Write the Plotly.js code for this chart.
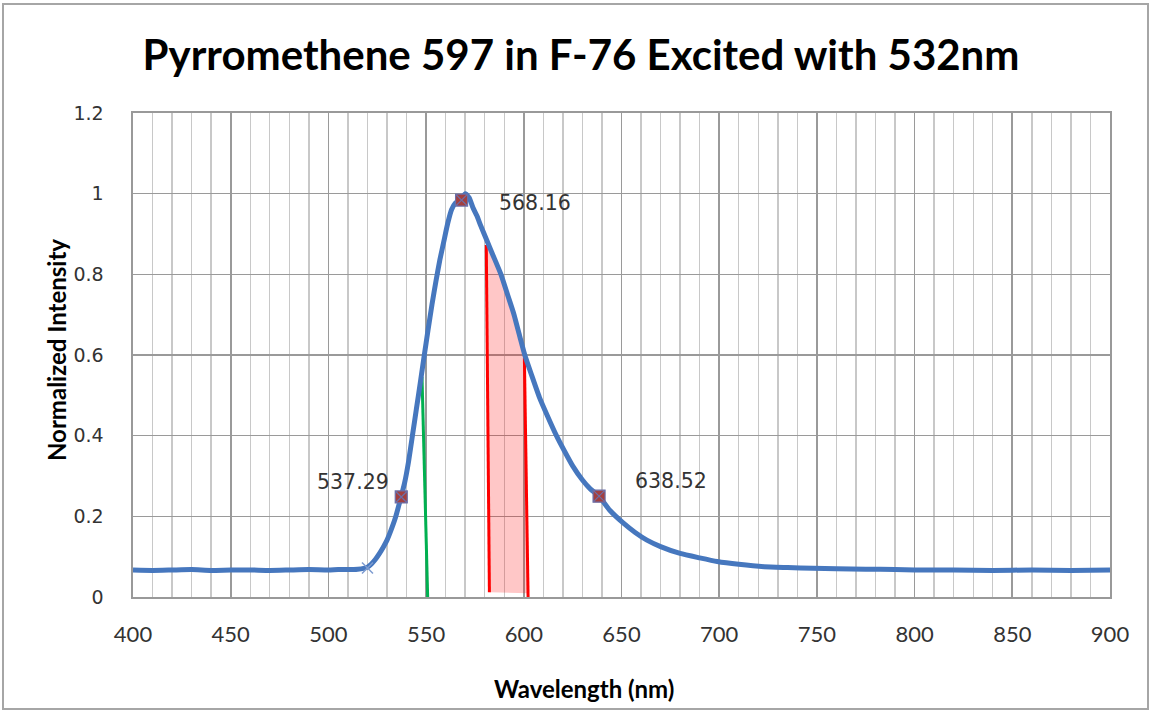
<!DOCTYPE html>
<html>
<head>
<meta charset="utf-8">
<script src="https://cdn.plot.ly/plotly-3.0.1.min.js"></script>
<style>
  html, body { margin: 0; padding: 0; background: #fff; }
  #chart { width: 1151px; height: 713px; }
</style>
</head>
<body>
<div id="chart"></div>
<script>
// Emission spectrum of Pyrromethene 597 in F-76 (normalized)
const wavelength = [
  400, 410, 420, 430, 440, 450, 460, 470, 480, 490, 500, 505, 510, 515, 518,
  520, 522, 524, 526, 528, 530, 532, 534.2, 537.29, 539, 541, 543, 545, 547,
  549, 551, 553, 555, 557, 559, 561, 563, 565, 567, 568.16, 570,
  572, 574, 576, 578, 581, 584, 588.3, 592, 595, 598, 600.5, 604, 608, 612,
  616.7, 621, 625, 630, 634, 638.52, 644, 651, 657, 663, 670, 680, 690,
  699, 710, 723, 735, 748, 760, 775, 790, 800, 820, 840, 860, 880, 900
];
const intensity = [
  0.067, 0.066, 0.067, 0.068, 0.066, 0.067, 0.067, 0.066, 0.067, 0.068, 0.067, 0.068, 0.068, 0.069, 0.071,
  0.074, 0.082, 0.093, 0.107, 0.123, 0.141, 0.165, 0.195, 0.250, 0.283, 0.335, 0.400, 0.465, 0.530,
  0.597, 0.662, 0.725, 0.782, 0.835, 0.880, 0.925, 0.960, 0.977, 0.982, 0.985, 1.000,
  0.990, 0.965, 0.945, 0.920, 0.885, 0.850, 0.800, 0.745, 0.700, 0.645, 0.600, 0.550, 0.495, 0.450,
  0.400, 0.360, 0.325, 0.290, 0.268, 0.250, 0.215, 0.183, 0.160, 0.141, 0.125, 0.108, 0.097,
  0.088, 0.081, 0.075, 0.073, 0.071, 0.070, 0.069, 0.068, 0.067, 0.067, 0.066, 0.067, 0.066, 0.067
];

// Labelled points on the curve
const peakWl = [537.29, 568.16, 638.52];
const peakVal = [0.248, 0.984, 0.250];

// Small cross at the onset of emission
const onsetWl = [520];
const onsetVal = [0.072];

// Green marker line (wavelength, intensity) top -> bottom
const greenWl = [547.9, 550.8];
const greenVal = [0.546, 0.0];

// Red band edges (wavelength, intensity) top -> bottom
const redLeftWl = [580.8, 582.4];
const redLeftVal = [0.873, 0.012];
const redRightWl = [600.3, 602.2];
const redRightVal = [0.592, -0.003];

const xTicks = [400, 450, 500, 550, 600, 650, 700, 750, 800, 850, 900];
const yTicks = [0, 0.2, 0.4, 0.6, 0.8, 1, 1.2];

// Shaded band: left red edge, the curve between the edges, right red edge
const bandX = [redLeftWl[1], redLeftWl[0]];
const bandY = [redLeftVal[1], redLeftVal[0]];
wavelength.forEach((w, i) => {
  if (w > redLeftWl[0] && w < redRightWl[0]) { bandX.push(w); bandY.push(intensity[i]); }
});
bandX.push(redRightWl[0], redRightWl[1]);
bandY.push(redRightVal[0], 0.009);

const traces = [
  {
    x: bandX, y: bandY, type: 'scatter', mode: 'lines',
    fill: 'toself', fillcolor: 'rgba(255,0,0,0.22)',
    line: { width: 0 }, hoverinfo: 'skip'
  },
  {
    x: greenWl, y: greenVal, type: 'scatter', mode: 'lines',
    line: { color: '#00B050', width: 3 }, hoverinfo: 'skip'
  },
  {
    x: redLeftWl, y: redLeftVal, type: 'scatter', mode: 'lines',
    line: { color: '#FF0000', width: 3 }, hoverinfo: 'skip'
  },
  {
    x: redRightWl, y: redRightVal, type: 'scatter', mode: 'lines',
    line: { color: '#FF0000', width: 3 }, hoverinfo: 'skip'
  },
  {
    x: wavelength, y: intensity, type: 'scatter', mode: 'lines',
    line: { color: '#4677BE', width: 5, shape: 'spline', smoothing: 0.5 },
    hoverinfo: 'skip'
  },
  {
    x: onsetWl, y: onsetVal, type: 'scatter', mode: 'markers',
    marker: { symbol: 'x-thin', size: 11, line: { color: '#7E9CD0', width: 1.5 } },
    hoverinfo: 'skip'
  },
  {
    x: peakWl, y: peakVal, type: 'scatter', mode: 'markers',
    marker: { symbol: 'square-x', size: 12, color: '#A33F3F', line: { color: '#6B6FA8', width: 1.2 } },
    hoverinfo: 'skip'
  }
];

// Offsets (px) of each value label from its marker
const labelAnchor = ['right', 'left', 'left'];
const labelDx = [-10, 35, 34];
const labelDy = [15, -3, 15];

const margin = { l: 133, r: 41, t: 113, b: 116 };
const W = 1151, H = 713;
const pw = W - margin.l - margin.r, ph = H - margin.t - margin.b;
const px = v => (v - margin.l) / pw;
const py = v => (H - margin.b - v) / ph;

const valueLabels = peakWl.map((w, i) => ({
  text: w.toFixed(2), x: w, y: peakVal[i], xref: 'x', yref: 'y',
  showarrow: false, xanchor: labelAnchor[i], yanchor: 'middle',
  xshift: labelDx[i], yshift: labelDy[i],
  font: { family: 'DejaVu Sans', size: 20.5, color: '#333333' }
}));

const layout = {
  width: W, height: H,
  margin: margin,
  paper_bgcolor: '#ffffff',
  plot_bgcolor: '#ffffff',
  showlegend: false,
  hovermode: false,
  title: {
    text: 'Pyrromethene 597 in F-76 Excited with 532nm',
    font: { family: 'Lato', size: 42, color: '#000000', weight: 'bold' },
    x: 581 / W, xanchor: 'center', xref: 'container',
    y: 1 - 55 / H, yanchor: 'middle', yref: 'container'
  },
  xaxis: {
    range: [400, 900],
    tickvals: xTicks,
    ticktext: xTicks.map(String),
    ticks: '',
    ticklabelstandoff: 17,
    tickfont: { family: 'Lato', size: 22, color: '#333333' },
    showgrid: true, gridcolor: '#9a9a9a', gridwidth: 1.6,
    minor: { dtick: 10, showgrid: true, gridcolor: '#c8c8c8', gridwidth: 1.4 },
    showline: true, linecolor: '#999999', linewidth: 1.6, mirror: true,
    zeroline: false, fixedrange: true
  },
  yaxis: {
    range: [0, 1.2],
    tickvals: yTicks,
    ticktext: yTicks.map(String),
    ticks: '',
    ticklabelstandoff: 24,
    tickfont: { family: 'DejaVu Sans', size: 19, color: '#333333' },
    showgrid: true, gridcolor: '#9a9a9a', gridwidth: 1.6,
    showline: true, linecolor: '#999999', linewidth: 1.6, mirror: true,
    zeroline: false, fixedrange: true
  },
  annotations: [
    {
      text: '<b>Wavelength (nm)</b>', showarrow: false,
      xref: 'paper', yref: 'paper', x: px(584), y: py(688),
      xanchor: 'center', yanchor: 'middle',
      font: { family: 'Lato', size: 24, color: '#000000' }
    },
    {
      text: '<b>Normalized Intensity</b>', showarrow: false, textangle: -90,
      xref: 'paper', yref: 'paper', x: px(56), y: py(350),
      xanchor: 'center', yanchor: 'middle',
      font: { family: 'Lato', size: 24, color: '#000000' }
    }
  ].concat(valueLabels),
  shapes: [
    {
      type: 'rect', xref: 'paper', yref: 'paper',
      x0: px(3), x1: px(1148), y0: py(709), y1: py(4),
      line: { color: '#a6a6a6', width: 2 }, fillcolor: 'rgba(0,0,0,0)', layer: 'below'
    }
  ]
};

Plotly.newPlot('chart', traces, layout, { displayModeBar: false, staticPlot: true });
</script>
</body>
</html>
